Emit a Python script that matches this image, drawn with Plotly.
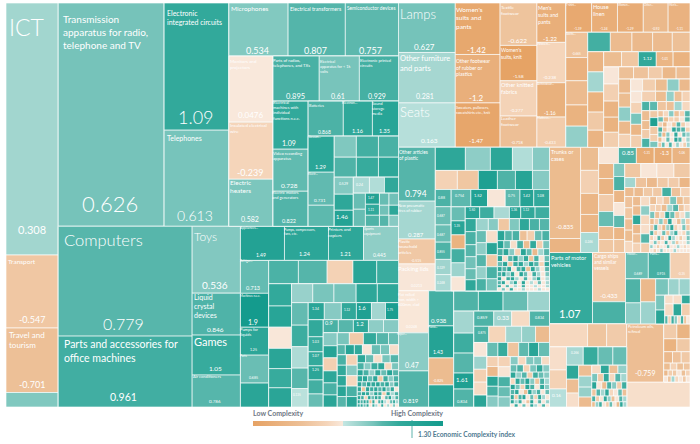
import plotly.graph_objects as go

# ---- helper: a run of tiles of one trade value, each with its complexity
def cells(v, pcis):
    return [(v, p) for p in pcis]

# ---- colour scale stops (PCI -> colour)
pci_min, pci_max = -1.6, 1.9
scale_pci = [-1.6, -0.7, -0.24, 0.059, 0.06, 0.3, 0.63, 0.78, 1.09, 1.9]
scale_col = ["#e6a264", "#edc097", "#f5d5ba", "#f9e9dc", "#c4e6e2", "#a3d6d0", "#75c3ba", "#57b6ab", "#32a99b", "#149b8d"]

# ---- trade value, complexity per tile, nested by sector
services = [(13104, .308), (3796, -.547), (3354, -.701), (754, .55)]

elec_small = [
    [(936, 1.29), (858, .731), (546, .75)],
    [
        [(462, .55), (462, .95), (420, .9)],
        [(440, .85), (440, 1.05), (400, 1.2)],
        [
            [(323, .529), (304, 1.2), (304, 1.46)],
            [
                [(256, .24), (240, .2), (224, 1.15)],
                [
                    [(192, .7), (204, .7)],
                    [(154, 1.47), (154, 1.11), (154, .85)],
                    [[(114, .7), (114, .65)], [(95, .65), (95, 1.2)], [(104, .8), (105, .5)]],
                ],
            ],
        ],
    ],
]
electronics = [
    (23527, .626),
    [(8192, 1.09), (6192, .613)],
    [
        [(3127, .534), (3021, .807), (2809, .757)],
        [
            [(2904, .0476), (2508, -.239), (2068, .582)],
            [
                [(2070, .895), (1800, .61), (1755, .929)],
                [
                    [(1680, 1.09), (1470, .728), (1225, .822)],
                    [[(1225, .868), (1015, 1.16), (910, 1.35)], elec_small],
                ],
            ],
        ],
    ],
]

mach_dense = [
    cells(66, [1.2, .7, -.1, .6, .8]),
    cells(48, [.9, .5, 1.0, 1.2, -.2, .6]),
    cells(35, [1.3, .9, .4, 1.1, .7, 1.4, .8]),
    cells(31, [1.1, 1.3, .7, 1.2, -.5, 1.0, .5, .9]),
    cells(23, [1.3, .8, 1.4, 1.1, 1.3, .9, 1.2, .5, 1.0]),
    cells(20, [1.2, -.6, 1.3, 1.0, 1.2, .8, 1.4, .6, 1.1, .02]),
    cells(16, [.9, 1.3, 1.1, .4, 1.3, 1.0, -.4, 1.2, .3, .9]),
    cells(14, [1.2, 1.0, -.3, 1.3, .7, 1.2, 1.0, .02, .8, 1.3, .2, .9]),
    cells(12, [1.3, .9, 1.2, 1.0, -.7, 1.1, .02, .9, 1.2, .2, .02, .7, 1.0, .3]),
    cells(9, [1.0, 1.2, .7, 1.3, .02, 1.0, .3, .02, 1.1, .02, .3, .02, .6, .02]),
]
machinery = [
    [(14630, .779), (9443, .961)],
    [(3216, .536), (2016, .846), (1920, 1.05), (1536, .786)],
    [
        [(1496, 1.49), (1496, 1.24), (1190, 1.21), (1190, .445)],
        [
            [(924, .713), (952, 1.9), (784, 1.25), (784, .685), (672, 1.3)],
            [
                [(690, .88), (667, .8), (598, -.3), (552, 1.3), (506, 1.02)],
                [
                    [(506, 1.1), (483, 1.35), (483, .03), (460, 1.3), (437, 1.05), (437, 1.3)],
                    [
                        [(399, .38), (399, .6), (418, .62), (399, 1.2), (399, 1.2)],
                        [
                            [(374, .72), (357, 1.0), (357, .22), (340, .78), (306, .135)],
                            [
                                [(272, 1.34), (289, .5), (255, 1.12), (255, 1.6), (238, .3), (221, 1.75)],
                                [
                                    [(255, 1.1), (225, 1.03), (210, 1.07), (210, 1.25), (210, .95), (195, .7)],
                                    [
                                        [(195, .9), (195, .78), (195, 1.2), (195, .45), (195, .5)],
                                        [
                                            [(182, .5), (168, 1.4), (182, -.35), (168, 1.2), (168, .9), (168, 1.3)],
                                            [
                                                [(144, .6), (168, -.45), (156, 1.1), (144, .8), (120, .7)],
                                                [(80, .8), (90, 1.4), (80, 1.1), (90, .02), (90, .7), (90, .6), (90, -.1)],
                                                [
                                                    cells(94, [.9, 1.1, 1.2, 1.3, .8]),
                                                    cells(114, [-.3, .5, -.2, .9, 1.3]),
                                                    mach_dense,
                                                ],
                                            ],
                                        ],
                                    ],
                                ],
                            ],
                        ],
                    ],
                ],
            ],
        ],
    ],
]

garment_dense = [
    cells(33, [-.6, -.2, .5, -.7, -.3, .8]),
    cells(27, [.7, -.8, -.3, -.4, .02, .8]),
    cells(23, [-.3, -.9, .02, -.5, .8, -.4, .02]),
    cells(23, [.9, -.6, .02, 1.2, .9, .8, -.3]),
    cells(20, [.6, -.9, .5, .02, 1.1, .02, .7, .4]),
    cells(20, [-.8, .02, .7, .02, 1.3, .8, .02, .3]),
    cells(18, [-.5, .7, .02, .9, .02, .4, .02, -.4, .3]),
]
garments = [
    [(2793, .627), (2850, .281), (2508, .163)],
    [(2295, -1.42), (2160, -1.2), (1980, -1.47)],
    [(1554, -.622), (1295, -1.58), (1295, -.277), (1147, -.718)],
    [(1131, -1.22), (1160, -.238), (986, -1.16), (870, -.433)],
    [
        [(754, -1.39), (754, -1.24), (754, -1.29), (725, -.92), (638, -1.11)],
        [
            [(550, -.665), (506, -1.15), (528, -.85), (462, -1.1), (462, .42)],
            [
                [(437, .95), (418, -.85), (399, -.9), (380, -.85), (342, -.7)],
                [
                    [(320, -1.05), (320, .3), (320, -1.1), (288, -.5), (272, -1.05)],
                    [
                        [(270, -.8), (255, -.55), (270, 1.12), (255, -1.01), (255, -1.1)],
                        [
                            [(255, .02), (255, -.35), (240, -1.05), (225, -1.1), (225, -.4)],
                            [
                                [(180, -.7), (180, -.65), (168, -.45), (168, -.95), (168, -.75)],
                                [
                                    [(168, -.9), (168, -.8), (168, .45), (156, -.9), (156, -.3)],
                                    [
                                        [(144, .02), (156, -.4), (144, -.8), (144, .45), (132, -.9)],
                                        [
                                            [(121, .02), (121, -.3), (121, .6), (121, -1.0), (132, -.4)],
                                            [
                                                [(140, -.35), (110, -.8), (80, .4), (80, -.7), (80, -.3)],
                                                [(72, .9), (72, .75), (81, -.6), (72, -.7), (72, .3), (72, -.2)],
                                                [
                                                    [(80, -.8), (72, -.8), (72, -.45), (72, .9)],
                                                    [(56, -.5), (72, 1.6), (64, -.5), (56, -.4), (48, .6)],
                                                    garment_dense,
                                                ],
                                            ],
                                        ],
                                    ],
                                ],
                            ],
                        ],
                    ],
                ],
            ],
        ],
    ],
]

plastics_dense = [
    cells(74, [1.3, .8, .9, -.7, -.4, .7, .9]),
    cells(52, [1.4, .7, -.1, .9, -.8, 1.1, -.4, .6]),
    cells(40, [.9, 1.2, .5, -.3, 1.3, .7, -.9, .3, .8]),
    cells(31, [1.2, -.1, .8, 1.3, .4, 1.1, -.6, .9, .02, .7]),
    cells(26, [.7, 1.3, -.5, 1.0, 1.2, .3, 1.3, .8, -.3, 1.1]),
    cells(24, [1.2, .8, 1.3, .02, .9, 1.1, -.7, 1.2, .4, .02, .8]),
    cells(22, [.9, 1.3, .4, 1.1, .02, 1.3, .7, .02, 1.0, .3, .02, .6]),
    cells(17, [1.3, .02, 1.0, 1.2, .3, .02, .9, .02, .4, 1.1, .02, .2]),
    cells(16, [.8, 1.2, .02, .4, 1.1, .02, 1.3, .02, .2, .02, .7, .02, .3]),
    cells(12, [1.1, .02, .8, .02, .3, .02, 1.0, .02, .02, .2, .02, .02, .3]),
    cells(12, [.02, .6, .02, 1.1, .02, .02, .3, .02, .02, .02, .2, .02, .02]),
]
plastics_top = [
    [(1971, .794), (1387, .287), (912, -.515), (985, .0213)],
    [
        [(690, 1.2), (575, .45), (506, 1.25), (460, .2), (391, .5)],
        [(418, -.3), (399, -.55), (361, 1.6), (342, .85), (323, 1.4), (323, .5)],
        [
            [(272, .88), (288, .687), (272, .687), (272, .855), (240, .329), (256, .248)],
            [
                [(340, .754), (289, 1.52), (306, .02), (255, .75), (238, 1.42), (272, 1.08)],
                [
                    cells(196, [.7, 1.35, -1.1, .95, .35, .02]),
                    [
                        [(168, 1.3), (168, 1.0), (180, .25), (132, 1.36), (168, 1.12), (168, 1.0)],
                        [
                            [(143, 1.1), (143, .9), (132, .8), (132, .65), (121, .7), (121, 1.2)],
                            [
                                [(144, .35), (120, .5), (132, -.55), (120, .55), (120, 1.2), (120, .9), (120, .8)],
                                [
                                    cells(120, [.7, .45, .8, .4, .9]),
                                    cells(132, [-.1, 1.3, -.5, .9, .6]),
                                    plastics_dense,
                                ],
                            ],
                        ],
                    ],
                ],
            ],
        ],
    ],
]

metals_dense = [
    cells(64, [.5, -.2, .55, .55, -.15]),
    cells(47, [.7, .9, -.3, .6, 1.1, .5]),
    cells(34, [1.2, .4, .8, -.4, 1.0, .7, .5]),
    cells(30, [-.2, 1.1, .7, 1.3, .5, -.6, .9, .3]),
    cells(25, [1.3, .6, -.3, 1.2, .9, .02, 1.1, .5]),
    cells(22, [.8, 1.2, .02, -.7, 1.3, .4, .9, .02, .7]),
    cells(20, [1.1, -.5, .9, 1.3, .02, .7, -.3, 1.2, .3, .02]),
    cells(16, [1.2, .3, 1.0, .02, -.6, 1.3, .02, .8, .02, .4]),
    cells(12, [.02, 1.1, .02, .7, .02, 1.2, .3, .02, .9, .02]),
]
metals = [
    [(1260, .0248), (1140, .47), (1080, .819)],
    [(875, .938), (800, 1.43), (675, -.825), (550, 1.35)],
    [
        [(500, .85), (500, 1.05), (500, .7), (440, .35)],
        [
            [(440, .3), (400, 1.0), (400, .8), (320, 1.61), (360, .834)],
            [
                [(300, .859), (270, .33), (270, -.15), (300, .834)],
                [(240, .875), (272, -.25), (256, .3), (224, .4), (224, -.85)],
                [
                    [(182, .02), (169, .35), (169, -.35), (169, -.15), (156, 1.3)],
                    [
                        [(154, .7), (140, 1.05), (154, -.6), (140, .75), (140, 1.3), (154, .7)],
                        [
                            [(110, -.35), (110, -.9), (110, 1.3), (110, .9), (121, .5)],
                            cells(122, [-.3, -.02, .9, .7, .5]),
                            metals_dense,
                        ],
                    ],
                ],
            ],
        ],
    ],
]

leather_dense = [
    cells(53, [-.7, -.2, -.6, .6, -.8, -.5]),
    cells(40, [-.3, -.4, -.8, .3, .8, -.6, -.2]),
    cells(35, [.6, -.7, -.2, 1.1, .7, -.5, -.1, .3]),
    cells(27, [-.8, -.3, .5, -.6, 1.2, .02, -.7, .3, -.4]),
    cells(24, [-.5, .8, -.2, -.9, .4, 1.1, -.3, .02, .6, -.5]),
    cells(20, [.9, -.4, .02, .7, -.6, .3, 1.0, .02, -.2, .4]),
    cells(18, [-.3, .02, .8, -.5, .02, 1.2, .3, .02, -.4, .02, .6]),
    cells(15, [.02, .6, -.2, .02, .9, .02, .3, -.5, .02, .02, .3]),
    cells(13, [.4, .02, -.4, .02, .02, .7, .02, .02, .3, .02, -.2, .02]),
    cells(13, [.02, -.3, .02, .5, .02, .02, .02, .3, .02, .02, .02, .02]),
]
textiles = [
    [(2821, -.835), (434, -1.05)],
    [(414, -.8), (414, -.35), (378, -1.0), (324, -1.0), (360, .246)],
    [
        [(320, .02), (288, .85), (288, -1.31), (288, -1.3), (288, -1.06)],
        [
            [(225, -1.0), (240, -1.05), (255, -.45), (225, .7), (195, -.85), (195, -.55)],
            [(143, .55), (154, .9), (132, -1.0), (143, .02), (132, .75), (132, -1.0), (143, -.6)],
            [
                [(224, -.55), (224, .02), (238, -.1), (224, -.5)],
                cells(108, [.3, -.65, -.9, -.5, -.45, -1.0]),
                cells(84, [-.85, -.85, -.5, -.5, .95, -.65, -.3]),
                [
                    cells(88, [-.65, -.55, -.75, -.8, -.2]),
                    cells(75, [-.85, -.85, 1.2, -.9, -.7, -.3]),
                    cells(84, [-.15, .45, -.2, -.1, .8, -.4]),
                    leather_dense,
                ],
            ],
        ],
    ],
]
vehicles = [
    (3053, 1.07),
    [(1617, -.433), (726, .9)],
    [
        [(598, .689), (572, .915), (520, -.35)],
        [
            [(360, .85), (315, .45)],
            [(345, -.9), (330, .35)],
            [
                [(208, .6), (176, .35), (176, .35)],
                [
                    [(135, .6), (126, 1.3)],
                    [
                        [(72, -.1), (72, -.1), (72, 1.1)],
                        [(100, -.15), (100, 1.2), (100, -.4)],
                        cells(25, [.8, -.3, 1.0, .5, -.1, .9, -.6, .02]),
                    ],
                ],
            ],
        ],
    ],
]
chem_dense = [
    cells(72, [-.15, 1.2, -.7, .4]),
    cells(48, [.6, -.5, 1.1, -.2, .8, .3]),
    cells(36, [1.3, .02, -.8, .9, .5, -.4, 1.0]),
    cells(30, [-.6, .8, .3, 1.2, -.2, .02, .7, -.7]),
    cells(22, [.9, -.4, .02, 1.1, .4, -.7, .02, .8, .3]),
    cells(18, [-.8, .4, 1.0, .02, -.5, .7, .02, -.9, 1.2, .3]),
]
oil_dense = [
    cells(195, [-.45, -1.05]),
    cells(169, [-1.1, -.5]),
    cells(99, [-.9, -.65, -.5]),
    cells(46, [-.8, -.3, -.7, -.6]),
    cells(26, [-.9, -.4, -.5, .02, -.7, -.3]),
    cells(22, [.02, -.6, .3, -.2, .02, -.5, .02]),
]
chemicals = [
    [
        [(874, -.2), (437, -.6), (460, -.45)],
        [
            [(391, -.1), (323, -.3), (306, .16)],
            [
                [(306, .266), (270, 1.05), (270, .7), (252, .7)],
                [
                    cells(168, [1.2, -.75, -.1]),
                    [(143, -.75), (143, .35), (130, .4), (130, -.85)],
                    chem_dense,
                ],
            ],
        ],
    ],
    [
        [(2146, -.759), oil_dense],
        (1575, -.09),
    ],
]

main_block = [electronics, machinery]
right_block = [
    garments,
    [
        [plastics_top, metals],
        [textiles, vehicles, chemicals],
    ],
]
tree = [services, main_block, right_block]

# ---- on-tile text: product names
name_text = ["ICT", "Transmission<br>apparatus for radio,<br>telephone and TV", "Computers",
    "Parts and accessories for<br>office machines", "Toys", "Liquid<br>crystal<br>devices", "Games", "Air conditioners",
    "Transport", "Travel and<br>tourism", "Electronic<br>integrated circuits", "Telephones", "Microphones",
    "Electrical transformers", "Semiconductor devices", "Lamps", "Other furniture<br>and parts", "Seats",
    "Monitors and<br>projectors", "Insulated electrical<br>wire", "Electric<br>heaters", "Parts of radios,<br>telephones, and TXs",
    "Electrical<br>apparatus for &lt; 1k<br>volts", "Electronic printed<br>circuits", "Electrical<br>machines with<br>individual<br>functions n.e.c.",
    "Video recording<br>apparatus", "Electric motors<br>and generators", "Batteries", "Electron...", "Sound<br>storage<br>media",
    "Vacuum...", "Electr...", "Other articles<br>of plastic", "New pneumatic<br>tires of rubber", "Plastic<br>household<br>articles",
    "Packing lids", "Flat rolled<br>iron, width &gt;<br>600mm, clad", "Women's<br>suits and<br>pants", "Other footwear<br>of rubber or<br>plastics",
    "Sweaters, pullovers,<br>sweatshirts etc., knit", "Textile<br>footwear", "Women's<br>suits, knit", "Other knitted<br>fabrics",
    "Leather<br>footwear", "Men's<br>suits and<br>pants", "Woven...", "Activewear...", "Mattress...", "T-shirt...", "House<br>linen",
    "Women...", "Other...", "Men's...", "Socks...", "Trunks or<br>cases", "Parts of motor<br>vehicles", "Cargo ships<br>and similar<br>vessels",
    "Appliances...", "Pumps, compressors,<br>fans, etc.", "Printers and<br>copiers", "Sports<br>equipment", "Refriger...", "Machines n.e.c.",
    "Pumps for<br>liquids", "Parts", "Piano...", "Paper...", "Petroleum oils,<br>refined", "Motor...", "Parts..."]
name_x = [9, 63, 64, 64, 194, 193.5, 193.5, 193, 8, 8.5, 167, 167, 231, 290, 347, 400, 400, 400, 230, 230, 230, 273, 320, 360, 272.5,
    273, 272, 309, 342, 372, 308, 308, 399, 398, 398, 398, 398, 456, 456, 456, 501, 501, 501, 501, 538, 537, 537, 537, 566, 593, 618, 644, 669,
    566, 551, 551, 594, 240, 284, 328, 364, 240, 240, 240, 240, 428, 397, 628, 627, 650]
name_y = [28, 20, 241, 345, 237, 298, 342, 377, 262, 335, 14, 139, 9, 9, 8, 14, 59, 112, 62, 126, 183, 61, 61, 61, 103, 153.5, 193, 105, 103,
    103, 137, 174, 152, 205, 242, 269, 294, 10, 61, 107, 8, 50, 86, 119, 8, 44, 84, 118, 5, 8, 5, 5, 5, 34, 153, 258, 256, 228, 230, 230, 229,
    261, 295.5, 329.5, 356, 327, 334, 327, 254, 254]
name_size = [23, 10, 16.5, 10.5, 12, 7, 11, 4, 6.5, 8, 7, 7, 6.5, 5.2, 4.8, 13, 7.5, 13, 4.5, 4.5, 6.5, 4.2, 3.8, 4, 4, 4.2, 4, 3.8, 3.5, 3.8,
    3, 3, 4.8, 3.8, 4.2, 6, 3.8, 6.5, 5, 3.8, 4.5, 5, 5.5, 4.5, 5.2, 3.5, 3, 3, 2.8, 5.5, 2.8, 2.8, 2.8, 3, 5.5, 5.6, 4.8, 3.3, 3.4, 4.3, 3.5, 3, 3,
    4, 3, 3, 3, 4, 3, 3]

# ---- on-tile text: complexity values
value_text = ["0.308", "-0.547", "-0.701", "0.626", "1.09", "0.613", "0.779", "0.961", "0.536", "0.846", "1.05", "0.786", "0.534", "0.807", "0.757",
    "0.627", "0.281", "0.163", "0.0476", "-0.239", "0.582", "0.895", "0.61", "0.929", "1.09", "0.728", "0.822", "0.868", "1.16", "1.35", "1.29", "0.731",
    "0.529", "0.24", "1.47", "1.11", "1.46", "0.794", "0.287", "-0.515", "0.0213", "0.0248", "-1.42", "-1.2", "-1.47", "-0.622", "-1.58", "-0.277", "-0.718",
    "-1.22", "-0.238", "-1.16", "-0.433", "-1.39", "-1.24", "-1.29", "-0.92", "-1.11", "-0.665", "1.12", "-1.01", "-0.835", "0.246", "0.85", "-1.31", "-1.3",
    "-1.06", "1.07", "-0.433", "1.49", "1.24", "1.21", "0.445", "0.713", "1.9", "1.25", "0.685", "1.34", "1.12", "1.6", "1.75", "0.9", "1.2", "1.03", "1.07",
    "1.25", "0.135", "0.938", "1.43", "-0.825", "0.47", "0.819", "1.61", "0.834", "0.859", "0.33", "0.834", "0.875", "0.16", "0.266", "0.689", "0.915", "-0.35",
    "-0.759", "0.88", "0.754", "1.52", "0.75", "1.42", "1.08", "1.50", "1.36", "1.12", "0.687", "0.687", "0.855", "0.329", "0.248", "1.35"]
value_x = [32, 32, 32, 110, 195.5, 195, 124, 124, 215, 215, 215, 215, 257, 315, 370, 425, 425, 429, 250, 250, 250, 295, 338, 377, 289, 289, 289, 324, 357, 384, 320, 320,
    343, 360, 371, 371, 342, 416, 416, 416, 416, 412, 476, 476, 476, 517, 518, 517, 517, 550, 550, 550, 550, 578, 604, 630, 656, 679, 576, 647, 664, 565, 589, 628, 646, 664,
    681, 570, 609, 261, 305, 345, 380, 253, 253, 253, 253, 315, 347, 362, 390, 329, 360, 315, 315, 315, 297, 439, 438, 438, 412, 411, 462, 462, 483, 503, 539, 482, 556, 575, 638, 661, 681,
    645, 441, 459, 478, 511, 526, 540, 472, 514, 526, 441, 441, 441, 441, 441, 457]
value_y = [230, 320, 385, 204, 118, 216, 324, 398, 285, 330, 369, 402, 51, 51, 51, 47, 97, 141, 115, 173, 220, 97, 97, 97, 144, 186, 222, 132, 132, 132, 168, 201,
    184, 185, 198, 210, 217, 195, 235, 261, 286, 327, 50, 98, 141, 41, 77, 111, 143, 39, 78, 113, 143, 29, 29, 29, 29, 29, 54, 59, 59, 227, 242, 153, 153, 153,
    153, 314, 296, 255, 255, 255, 255, 289, 323, 350, 378, 309, 309.5, 309, 309.5, 324, 325, 342, 356, 370, 395, 321, 352, 381, 366, 401, 380, 402, 318, 318, 318, 333, 396, 353, 274, 274, 274,
    374, 198, 196, 196, 196, 196, 196, 210, 210, 210, 216, 235, 252, 268, 283, 226]
value_size = [11, 9, 9, 22, 18, 14, 16, 10.5, 10, 6.5, 6.5, 4.5, 9, 9, 9, 8, 7, 6.5, 8, 9, 7, 7.5, 7, 7, 7, 6.5, 5.5, 5, 5.5, 5.5, 5.5, 4.5,
    3.5, 3.5, 3, 3, 6, 8.5, 6, 3.5, 3.5, 3.5, 8, 8, 6, 6.5, 4.5, 4.5, 4, 6, 4.5, 5, 4, 3.2, 3.2, 3.2, 3.2, 3, 3, 4.5, 3, 6, 3, 6, 3, 5,
    3, 11, 6, 5, 5.5, 5.5, 5, 5.5, 7, 3.5, 3.5, 3.5, 3, 5.5, 3, 5.5, 5.5, 3.5, 3.5, 3.5, 3, 6, 5, 3.5, 7, 6, 6, 4, 4, 6, 3.5, 3, 4.5, 3, 3.2, 3.2, 3,
    7, 3.5, 3.5, 4, 3.5, 3.5, 3.5, 3, 3, 3, 3, 3, 3, 3, 3, 3]

legend_low = "Low Complexity"
legend_high = "High Complexity"
eci_label = "1.30 Economic Complexity index"

# ---- flatten the tree for the treemap trace
ids, parents, values, colors = [], [], [], []
def add(node, parent):
    nid = f"n{len(ids)}"
    ids.append(nid)
    parents.append(parent)
    if isinstance(node, tuple):
        values.append(node[0])
        colors.append(node[1])
    else:
        values.append(0)
        colors.append(0.3)
        for child in node:
            add(child, nid)
add(tree, "")

colorscale = [[(p - pci_min) / (pci_max - pci_min), c] for p, c in zip(scale_pci, scale_col)]
W, H = 700, 444
FONT = "Lato"

fig = go.Figure(go.Treemap(
    ids=ids, labels=ids, parents=parents, values=values,
    branchvalues="remainder", sort=False, textinfo="none", hoverinfo="skip",
    tiling=dict(packing="slice-dice", pad=0),
    pathbar=dict(visible=False),
    domain=dict(x=[6 / W, 690 / W], y=[1 - 407 / H, 1 - 3 / H]),
    marker=dict(
        colors=colors, colorscale=colorscale, cmin=pci_min, cmax=pci_max, showscale=True,
        pad=dict(t=0, l=0, r=0, b=0), depthfade=False,
        line=dict(color="rgba(255,255,255,0.8)", width=0.8),
        colorbar=dict(orientation="h", x=253 / W, xanchor="left", y=1 - 425.5 / H, yanchor="bottom",
                      len=190, lenmode="pixels", thickness=5, thicknessmode="pixels",
                      outlinewidth=0, borderwidth=0, xpad=0, ypad=0, ticks="", showticklabels=False),
    ),
))

ann = []
def text(t, x, y, size, anchor="left", color="white", weight=None):
    # y is the centre of the first line of text
    if weight is None:
        weight = 300 if size >= 12 else 400
    ann.append(dict(text=t, xref="paper", yref="paper", x=x / W, y=1 - (y - size * 0.65) / H,
                    xanchor=anchor, yanchor="top", align=anchor, showarrow=False, borderpad=0, borderwidth=0,
                    font=dict(family=FONT, size=size, color=color, weight=weight)))
for t, x, y, s in zip(name_text, name_x, name_y, name_size):
    text(t, x, y, s)
for t, x, y, s in zip(value_text, value_x, value_y, value_size):
    text(t, x, y, s, anchor="center")
text(legend_low, 253, 414, 7, color="#6f7785", weight="bold")
text(legend_high, 443, 414, 7, anchor="right", color="#6f7785", weight="bold")
text(eci_label, 418, 434, 6.7, color="#4f7a90", weight="bold")

fig.update_layout(
    width=W, height=H, margin=dict(l=0, r=0, t=0, b=0, autoexpand=False), paper_bgcolor="white",
    annotations=ann, font=dict(family=FONT),
    shapes=[dict(type="line", xref="paper", yref="paper", x0=412 / W, x1=412 / W, y0=1 - 420 / H, y1=1 - 438 / H,
                 line=dict(color="#5fb3ac", width=1))],
)
fig.write_html("out.html", config=dict(displayModeBar=False), post_script="document.body.style.margin='0';")
